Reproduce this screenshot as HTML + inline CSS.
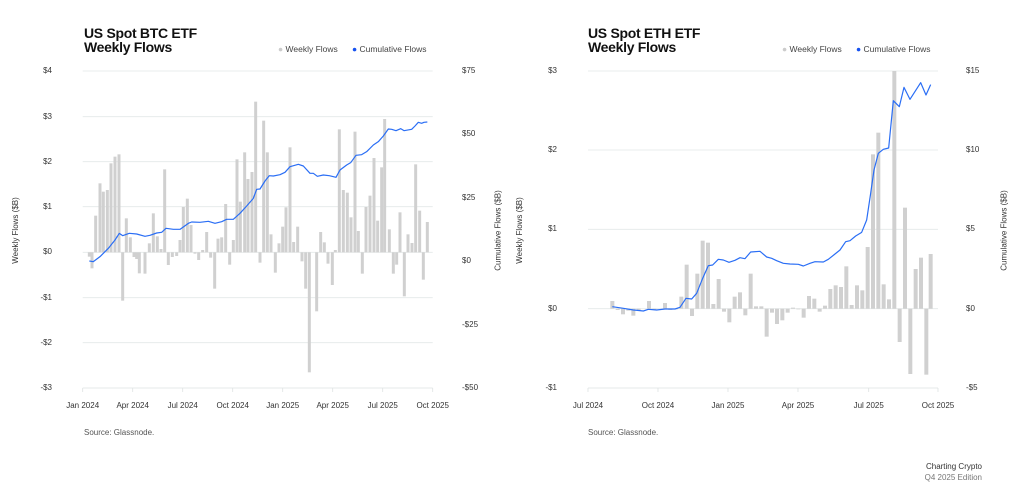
<!DOCTYPE html>
<html><head><meta charset="utf-8"><style>
body{margin:0;width:1024px;height:493px;background:#fff;font-family:"Liberation Sans",sans-serif;position:relative;overflow:hidden}
.t{position:absolute;color:#222}
.title{font-weight:bold;font-size:14px;line-height:14px;letter-spacing:-0.3px;color:#111}
.lg{font-size:8.5px;color:#444;white-space:nowrap}
.tk{font-size:8px;color:#333;position:absolute}
.rot{position:absolute;font-size:8px;color:#333;transform:rotate(-90deg);white-space:nowrap;transform-origin:center}
.src{font-size:8px;color:#555}
</style></head><body>
<svg id="s" width="1024" height="493" style="position:absolute;left:0;top:0"></svg>

<div class="t title" style="left:84px;top:26px">US Spot BTC ETF<br>Weekly Flows</div>
<div class="t lg" style="left:278px;top:44px"><span style="color:#ccc">●</span> Weekly Flows &nbsp;&nbsp;&nbsp;&nbsp;&nbsp;<span style="color:#1652f0">●</span> Cumulative Flows</div>
<div class="t title" style="left:588px;top:26px">US Spot ETH ETF<br>Weekly Flows</div>
<div class="t lg" style="left:782px;top:44px"><span style="color:#ccc">●</span> Weekly Flows &nbsp;&nbsp;&nbsp;&nbsp;&nbsp;<span style="color:#1652f0">●</span> Cumulative Flows</div>

<div class="rot" style="left:-18px;top:226px">Weekly Flows ($B)</div>
<div class="rot" style="left:458px;top:226px">Cumulative Flows ($B)</div>
<div class="rot" style="left:486px;top:226px">Weekly Flows ($B)</div>
<div class="rot" style="left:964px;top:226px">Cumulative Flows ($B)</div>

<div class="t src" style="left:84px;top:428px">Source: Glassnode.</div>
<div class="t src" style="left:588px;top:428px">Source: Glassnode.</div>
<div class="t" style="right:42px;top:461px;font-size:8px;color:#333;text-align:right;line-height:11px">Charting Crypto<br><span style="color:#777">Q4 2025 Edition</span></div>

<div id="lbl"></div>
<script>
var s=document.getElementById('s'),L=document.getElementById('lbl'),h='';
function lab(x,y,t,al){h+='<div class="tk" style="'+(al=='r'?'right:'+(1024-x)+'px':al=='c'?'left:'+(x-30)+'px;width:60px;text-align:center':'left:'+x+'px')+';top:'+(y-5)+'px">'+t+'</div>';}
var g='';
var by=[71,116.7,161.7,206.7,252.3,297.7,342.7,388],bl=['$4','$3','$2','$1','$0','-$1','-$2','-$3'],br=['$75','$50','$25','$0','-$25','-$50'];
for(var i=0;i<7;i++){g+='<line x1="82.7" x2="432.7" y1="'+by[i]+'" y2="'+by[i]+'" stroke="#e3e8e8" stroke-width="0.8"/>';lab(52,by[i],bl[i],'r');}
lab(52,388,'-$3','r');
var ry=[71,134.4,197.8,261.2,324.6,388];
for(i=0;i<6;i++)lab(462,ry[i],br[i],'l');
g+='<line x1="82.7" x2="432.7" y1="388" y2="388" stroke="#dde2e2" stroke-width="0.8"/>';
var bx=['Jan 2024','Apr 2024','Jul 2024','Oct 2024','Jan 2025','Apr 2025','Jul 2025','Oct 2025'];
for(i=0;i<8;i++){var x=82.7+50*i;g+='<line x1="'+x+'" x2="'+x+'" y1="388" y2="392" stroke="#dde2e2" stroke-width="0.8"/>';lab(x,406,bx[i],'c');}
var B=[[28,590],[36,625],[47,467],[60,370],[70,395],[82,390],[93,310],[105,290],[117,283],[128,722],[139,475],[151,532],[162,591],[170,597],[178,640],[195,641],[208,550],[220,460],[232,529],[243,567],[254,328],[265,615],[277,591],[290,588],[300,540],[310,441],[322,416],[333,495],[345,581],[356,600],[368,570],[380,516],[392,593],[404,686],[414,536],[425,532],[437,432],[449,614],[460,540],[471,298],[481,425],[494,277],[504,357],[516,336],[527,125],[540,608],[551,182],[562,277],[573,523],[586,638],[597,550],[608,500],[618,442],[630,262],[641,546],[653,500],[666,604],[677,686],[688,937],[710,754],[722,516],[733,547],[744,611],[757,675],[766,570],[778,208],[790,390],[802,398],[813,472],[825,215],[835,513],[847,641],[858,441],[870,407],[882,294],[893,482],[905,322],[914,177],[928,508],[940,641],[950,614],[960,457],[973,709],[984,523],[996,549],[1007,313],[1019,452],[1030,659],[1042,486]];
g+='<g transform="translate(80 60) scale(0.33333)">';
B.forEach(function(b){var y=Math.min(b[1],577),hh=Math.abs(577-b[1]);g+='<rect x="'+(b[0]-4.5)+'" y="'+y+'" width="9" height="'+hh+'" fill="#d0d0d0"/>';});
var BL=[[28,603],[40,605],[60,590],[85,565],[105,540],[118,520],[128,527],[148,520],[170,522],[195,529],[210,526],[230,519],[245,517],[258,505],[280,508],[300,508],[325,490],[335,486],[360,487],[385,484],[405,490],[425,485],[440,478],[460,478],[480,460],[500,438],[520,415],[530,388],[540,387],[555,363],[568,347],[580,348],[600,344],[615,337],[630,320],[655,313],[670,318],[690,340],[700,340],[712,349],[730,345],[748,347],[768,352],[780,330],[800,315],[812,308],[828,286],[845,284],[860,275],[880,255],[895,245],[910,228],[925,207],[935,208],[948,212],[962,206],[972,212],[995,208],[1005,198],[1015,187],[1025,190],[1032,187],[1042,186]];
g+='<polyline fill="none" stroke="#2a6ef5" stroke-width="3.6" stroke-linejoin="round" points="'+BL.join(' ')+'"/></g>';
var ey=[71,150,229.3,308.7,388],el=['$3','$2','$1','$0','-$1'],er=['$15','$10','$5','$0','-$5'];
for(i=0;i<5;i++){g+='<line x1="588" x2="938" y1="'+ey[i]+'" y2="'+ey[i]+'" stroke="'+(i==4?'#dde2e2':'#e3e8e8')+'" stroke-width="0.8"/>';lab(557,ey[i],el[i],'r');lab(966,ey[i],er[i],'l');}
var ex=['Jul 2024','Oct 2024','Jan 2025','Apr 2025','Jul 2025','Oct 2025'],exx=[588,658,728,798,868.7,938];
for(i=0;i<6;i++){g+='<line x1="'+exx[i]+'" x2="'+exx[i]+'" y1="388" y2="392" stroke="#dde2e2" stroke-width="0.8"/>';lab(exx[i],406,ex[i],'c');}
var E=[[97,723],[113,750],[129,763],[145,752],[160,767],[176,752],[207,723],[223,750],[255,729],[271,750],[288,748],[304,710],[320,614],[336,768],[352,641],[368,542],[384,548],[400,732],[416,657],[432,755],[448,787],[464,710],[480,697],[496,766],[512,641],[528,739],[544,739],[560,830],[576,758],[591,792],[607,781],[623,758],[639,743],[655,748],[671,773],[687,708],[703,716],[719,755],[735,737],[751,687],[767,676],[783,681],[799,619],[815,735],[831,676],[847,691],[863,561],[879,283],[895,218],[911,673],[927,718],[943,33],[959,846],[975,443],[991,942],[1007,627],[1023,593],[1039,944],[1052,582]];
g+='<g transform="translate(580 60) scale(0.33333)">';
E.forEach(function(b){var y=Math.min(b[1],746),hh=Math.abs(746-b[1]);g+='<rect x="'+(b[0]-6)+'" y="'+y+'" width="12" height="'+hh+'" fill="#d0d0d0"/>';});
var EL=[[97,740],[130,745],[160,750],[190,753],[205,748],[230,750],[255,747],[285,747],[300,742],[318,715],[335,717],[350,700],[368,655],[385,617],[398,615],[415,598],[430,600],[447,607],[465,601],[480,593],[495,596],[512,576],[540,574],[560,591],[575,595],[590,602],[610,610],[630,612],[655,613],[670,618],[690,610],[705,605],[730,606],[745,598],[765,582],[780,570],[797,545],[810,542],[827,528],[845,517],[860,480],[872,400],[882,330],[895,280],[910,268],[926,264],[940,122],[958,140],[972,82],[990,118],[1022,68],[1038,105],[1052,74]];
g+='<polyline fill="none" stroke="#2a6ef5" stroke-width="3.6" stroke-linejoin="round" points="'+EL.join(' ')+'"/></g>';
s.innerHTML=g;L.innerHTML=h;
</script>
</body></html>
